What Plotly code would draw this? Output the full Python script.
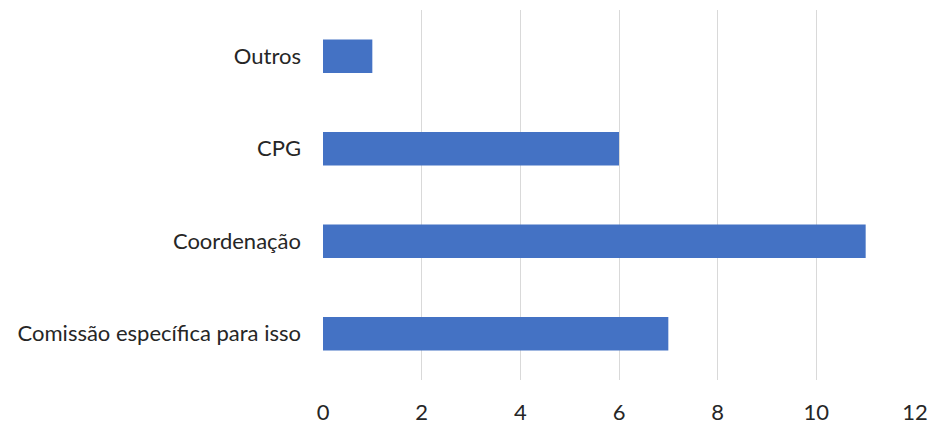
import plotly.graph_objects as go

categories = ["Comissão específica para isso", "Coordenação", "CPG", "Outros"]
values = [7, 11, 6, 1]
tick_vals = [0, 2, 4, 6, 8, 10, 12]

fig = go.Figure(go.Bar(
    x=values, y=categories, orientation="h",
    marker=dict(color="#4472C4", line=dict(width=0)),
    width=0.36,
))

fig.update_layout(
    width=931, height=424,
    margin=dict(l=323, r=16, t=10, b=44, autoexpand=False),
    paper_bgcolor="white", plot_bgcolor="white",
    font=dict(family="Lato, Carlito, sans-serif", size=22, color="#262626"),
    showlegend=False,
)
fig.update_xaxes(range=[0, 12], tickvals=tick_vals, showgrid=True,
                 gridcolor="#D9D9D9", gridwidth=1.3, zeroline=False,
                 showline=False, ticks="", ticklabelstandoff=17,
                 tickfont=dict(size=22, color="#262626"))
fig.update_yaxes(showgrid=False, zeroline=False, showline=False, ticks="",
                 ticklabelstandoff=21, tickfont=dict(size=22, color="#262626"))

fig.write_html(
    "out.html",
    config={"displayModeBar": False},
    post_script="document.body.style.margin='0';document.body.style.overflow='hidden';",
)
